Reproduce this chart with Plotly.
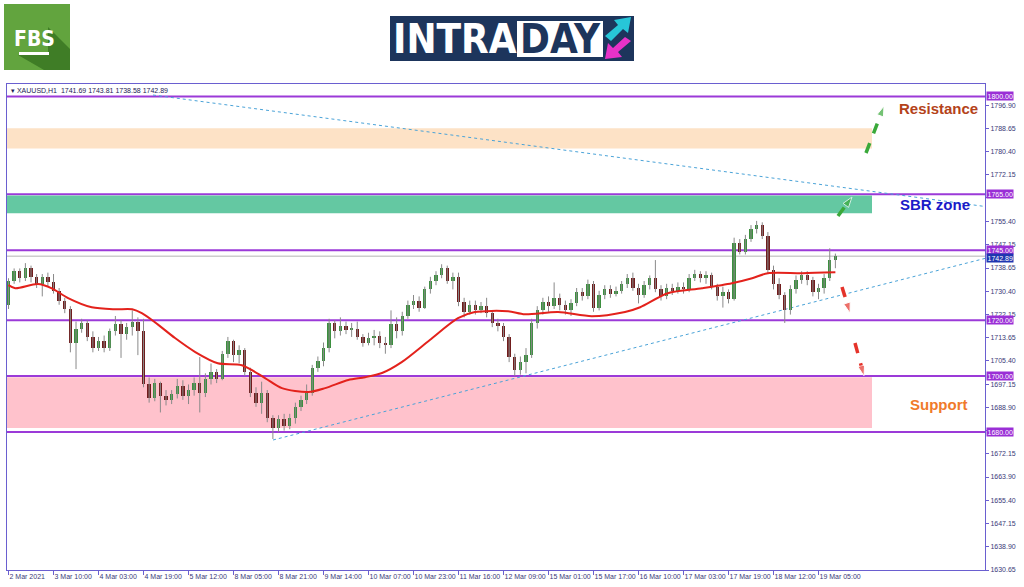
import plotly.graph_objects as go

W, H = 1024, 587
ML, MR, MT, MB = 7, 39, 84, 17
PW, PH = W - ML - MR, H - MT - MB

# ---------------- data ----------------
open_ = [1725.5, 1734, 1737.5, 1735, 1738.5, 1735.5, 1733, 1735.5, 1733.5, 1730.5,
         1727, 1724, 1712, 1717, 1719, 1714, 1710, 1712.5, 1710, 1716,
         1718.5, 1715, 1717.5, 1719.5, 1716, 1697, 1692, 1697.5, 1693, 1691.5,
         1693.5, 1696.5, 1693, 1695, 1697.5, 1694, 1699, 1701.5, 1699, 1708,
         1712.5, 1707.5, 1709.5, 1701.5, 1694, 1690.5, 1694, 1685, 1681.5, 1684.5,
         1682, 1685, 1689, 1691.5, 1694, 1703, 1705.5, 1710, 1719, 1716,
         1718, 1716.5, 1717, 1714, 1712, 1713.5, 1714.5, 1712, 1711, 1718.5,
         1716, 1721.5, 1725.5, 1727, 1724.5, 1731, 1734, 1736, 1738.5, 1734,
         1735.5, 1726.5, 1723, 1725.5, 1723.5, 1725, 1722.5, 1719, 1718, 1714,
         1707, 1702, 1705, 1707.5, 1719, 1723.5, 1726.5, 1725, 1728, 1725.5,
         1723.5, 1726, 1730, 1728.5, 1733, 1724.5, 1729, 1731, 1729.5, 1730.5,
         1733, 1735, 1731.5, 1729, 1732.5, 1735, 1731, 1728.5, 1731.5, 1730.5,
         1732, 1731, 1735, 1736.5, 1735, 1736, 1732, 1728.5, 1730, 1727.5,
         1747.5, 1744.5, 1749, 1752.5, 1754, 1750, 1738, 1733, 1729, 1723.5,
         1731, 1734.5, 1736, 1734.5, 1730, 1731.5, 1735, 1741.69]
high = [1735, 1738.5, 1738.5, 1740.4, 1739.5, 1736.5, 1736.5, 1737, 1736.5, 1731.5,
        1728, 1725, 1719.5, 1720.5, 1720, 1716, 1714, 1714.5, 1717, 1721.5,
        1720, 1719, 1723.5, 1721, 1720.5, 1699.5, 1699, 1698, 1695, 1695,
        1699, 1698.5, 1697, 1699.5, 1706.8, 1701, 1704.5, 1702.5, 1709, 1714,
        1713, 1711, 1710, 1703, 1696, 1698, 1695, 1686, 1686, 1686.5,
        1686.5, 1690.5, 1693, 1697, 1704, 1707, 1712, 1720.5, 1720, 1721,
        1719.5, 1719, 1719.5, 1715, 1715.5, 1716.5, 1716, 1714, 1723.5, 1721,
        1723, 1727, 1729, 1728.5, 1732, 1735.5, 1737.5, 1740, 1739.5, 1737,
        1737, 1728, 1727, 1727, 1726.5, 1728, 1723.5, 1720.5, 1719, 1715,
        1708, 1707, 1710, 1720.5, 1725, 1728, 1728.5, 1733.5, 1729.5, 1727,
        1727.5, 1731.5, 1731.5, 1734.5, 1734, 1730.5, 1732.5, 1732.5, 1732, 1734,
        1736.5, 1737, 1733, 1734, 1736, 1741.5, 1732.5, 1733, 1733, 1733.5,
        1733.5, 1736.5, 1738, 1737.5, 1737.5, 1737, 1733, 1732, 1731, 1749.5,
        1749, 1750.5, 1754, 1755.5, 1755, 1751.5, 1739.5, 1735, 1730, 1732.5,
        1736, 1737.5, 1737.5, 1735.5, 1733, 1736.5, 1745.7, 1743.81]
low = [1724, 1733, 1733.5, 1734, 1733.5, 1731.5, 1728.5, 1732, 1729.5, 1725.5,
       1722.5, 1708.5, 1702.5, 1715.5, 1712.5, 1708.5, 1709, 1708.5, 1709, 1714.5,
       1706.5, 1713, 1714.5, 1707.5, 1696, 1690.5, 1691, 1687, 1689.5, 1690,
       1692, 1691.5, 1690, 1693, 1687, 1692.5, 1697, 1697.5, 1698.5, 1706.5,
       1705, 1704.5, 1700, 1692.5, 1689, 1686.5, 1683.5, 1677.5, 1680, 1680.5,
       1681, 1683, 1687.5, 1690, 1693, 1701.5, 1703.5, 1708.5, 1713.5, 1714.5,
       1715, 1714, 1713, 1710.5, 1711, 1711, 1710, 1708, 1710, 1713.5,
       1714.5, 1720.5, 1724, 1723, 1724, 1729.5, 1732.5, 1735, 1733, 1731,
       1725, 1721, 1722, 1722, 1722.5, 1721, 1717.5, 1716, 1712.5, 1705,
       1700, 1700.5, 1701, 1706.5, 1717, 1722, 1723, 1724, 1723.5, 1722,
       1721.5, 1725, 1727, 1727.5, 1723, 1723.5, 1727.5, 1728, 1728.5, 1729.5,
       1731.5, 1730.5, 1726, 1728, 1731, 1730, 1727, 1727.5, 1729, 1729.5,
       1729.5, 1730, 1734, 1733.5, 1733, 1731, 1727, 1724.5, 1726, 1727,
       1743.5, 1743.5, 1748, 1751, 1749, 1736.5, 1731, 1727.5, 1719, 1722,
       1729.5, 1733, 1732.5, 1728.5, 1727.5, 1729.5, 1734, 1738.58]
close = [1734, 1737.5, 1735, 1738.5, 1735.5, 1733, 1735.5, 1733.5, 1730.5, 1727,
         1724, 1712, 1717, 1719, 1714, 1710, 1712.5, 1710, 1716, 1718.5,
         1715, 1717.5, 1719.5, 1716, 1697, 1692, 1697.5, 1693, 1691.5, 1693.5,
         1696.5, 1693, 1695, 1697.5, 1694, 1699, 1701.5, 1699, 1708, 1712.5,
         1707.5, 1709.5, 1701.5, 1694, 1690.5, 1694, 1685, 1681.5, 1684.5, 1682,
         1685, 1689, 1691.5, 1694, 1703, 1705.5, 1710, 1719, 1716, 1718,
         1716.5, 1717, 1714, 1712, 1713.5, 1714.5, 1712, 1711, 1718.5, 1716,
         1721.5, 1725.5, 1727, 1724.5, 1731, 1734, 1736, 1738.5, 1734, 1735.5,
         1726.5, 1723, 1725.5, 1723.5, 1725, 1722.5, 1719, 1718, 1714, 1707,
         1702, 1705, 1707.5, 1719, 1723.5, 1726.5, 1725, 1728, 1725.5, 1723.5,
         1726, 1730, 1728.5, 1733, 1724.5, 1729, 1731, 1729.5, 1730.5, 1733,
         1735, 1731.5, 1729, 1732.5, 1735, 1731, 1728.5, 1731.5, 1730.5, 1732,
         1731, 1735, 1736.5, 1735, 1736, 1732, 1728.5, 1730, 1727.5, 1747.5,
         1744.5, 1749, 1752.5, 1754, 1750, 1738, 1733, 1729, 1723.5, 1731,
         1734.5, 1736, 1734.5, 1730, 1731.5, 1735, 1741.69, 1742.89]

tick_idx = [0, 8, 16, 24, 32, 40, 48, 56, 64, 72, 80, 88, 96, 104, 112, 120, 128, 136, 144]
tick_text = ["2 Mar 2021", "3 Mar 10:00", "4 Mar 03:00", "4 Mar 19:00", "5 Mar 12:00",
             "8 Mar 05:00", "8 Mar 21:00", "9 Mar 14:00", "10 Mar 07:00", "10 Mar 23:00",
             "11 Mar 16:00", "12 Mar 09:00", "15 Mar 01:00", "15 Mar 17:00", "16 Mar 10:00",
             "17 Mar 03:00", "17 Mar 19:00", "18 Mar 12:00", "19 Mar 05:00"]

ma_idx = [0, 1.2, 5.2, 7.7, 10.6, 14.8, 18.9, 22.0, 23.7, 26.0, 29.6, 33.2, 37.2, 41.5,
          45.6, 48.6, 53.3, 56.3, 60.4, 63.4, 66.4, 69.9, 74.9, 79.9, 82.9, 88.8, 91.8,
          97.7, 103.7, 109.6, 112.3, 117.2, 123.3, 128.6, 132.2, 135.0, 141.1, 147]
ma_val = [1732.5, 1731.4, 1732.9, 1731.4, 1727.9, 1724.6, 1723.9, 1723.9, 1722.5, 1719.3,
          1713.6, 1708.6, 1704.6, 1703.9, 1699.3, 1695.7, 1694.3, 1695.7, 1698.6, 1699.6,
          1701.1, 1705.0, 1712.9, 1720.7, 1722.9, 1723.2, 1722.1, 1722.9, 1721.4, 1722.9,
          1724.6, 1729.6, 1731.4, 1733.2, 1735.0, 1736.8, 1736.8, 1737.1]

y_ticks = [1796.90, 1788.65, 1780.40, 1772.15, 1763.90, 1755.40, 1747.15, 1738.65,
           1730.40, 1722.15, 1713.65, 1705.40, 1697.15, 1688.90, 1680.65, 1672.15,
           1663.90, 1655.40, 1647.15, 1638.90, 1630.65]
hidden_ticks = [1763.90, 1680.65]   # covered by level boxes in the reference
levels = [1800.00, 1765.00, 1745.00, 1720.00, 1700.00, 1680.00]
last_price = 1742.89
zone_lo = [1781.4, 1758.2, 1681.4]
zone_hi = [1788.6, 1764.6, 1699.6]
zone_col = ["#fde2c6", "#64c8a2", "#ffc2cc"]
title_text = "▾ XAUUSD,H1  1741.69 1743.81 1738.58 1742.89"

# ---------------- axis ranges & helpers ----------------
X0, X1 = -0.27, 173.6
Y0, Y1 = 1630.65, 1804.46

def dx(px):
    return X0 + (px - ML) / PW * (X1 - X0)

def dy(py):
    return Y1 - (py - MT) / PH * (Y1 - Y0)

def qx(px):
    return (px - ML) / PW

def qy(py):
    return (H - MB - py) / PH

n = len(close)
idx = list(range(n))

BULL, BEAR, WICK = "#3c8f3f", "#701d1d", "#8a8a8a"
FRAME = "#6a5fd0"
LVL = "#9b3ad8"
FONT = "Liberation Sans, Arial, sans-serif"
NARROW = "Liberation Sans Narrow, DejaVu Sans Condensed, sans-serif"

fig = go.Figure()

# wicks
wx, wy = [], []
for i in idx:
    wx += [i, i, None]
    wy += [low[i], high[i], None]
fig.add_trace(go.Scatter(x=wx, y=wy, mode="lines", line=dict(color=WICK, width=1),
                         hoverinfo="skip", showlegend=False))
# bodies
body_base = [min(o, c) for o, c in zip(open_, close)]
body_len = [max(abs(c - o), 0.35) for o, c in zip(open_, close)]
body_col = [BULL if c >= o else BEAR for o, c in zip(open_, close)]
fig.add_trace(go.Bar(x=idx, y=body_len, base=body_base, width=0.6,
                     marker=dict(color=body_col, line=dict(width=0)),
                     showlegend=False, hoverinfo="skip"))
# moving average
fig.add_trace(go.Scatter(x=ma_idx, y=ma_val, mode="lines",
                         line=dict(color="#e3221c", width=2, shape="spline", smoothing=0.8),
                         showlegend=False, hoverinfo="skip"))

# dashed arrows
arrows = [((866, 153), (884, 106), "#3aa93a"),
          ((838, 216), (852, 197), "#3aa93a"),
          ((842, 287), (850, 313), "#e5332a"),
          ((855, 343), (864, 376), "#e5332a")]
for (a, b, col) in arrows:
    fig.add_trace(go.Scatter(x=[dx(a[0]), dx(b[0])], y=[dy(a[1]), dy(b[1])],
                             mode="lines+markers",
                             line=dict(color=col, width=3.5, dash="dash"),
                             marker=dict(symbol="arrow", angleref="previous",
                                         size=[0, 11], color=col),
                             showlegend=False, hoverinfo="skip"))

shapes = []
# zones
for lo, hi, col in zip(zone_lo, zone_hi, zone_col):
    shapes.append(dict(type="rect", xref="x", yref="y", x0=X0, x1=dx(872), y0=lo, y1=hi,
                       fillcolor=col, line=dict(width=0), layer="below"))
# horizontal levels
for lv in levels:
    shapes.append(dict(type="line", xref="paper", yref="y", x0=0, x1=1, y0=lv, y1=lv,
                       line=dict(color=LVL, width=2), layer="below"))
shapes.append(dict(type="line", xref="paper", yref="y", x0=0, x1=1, y0=last_price, y1=last_price,
                   line=dict(color="#b4b4b4", width=1), layer="below"))
# trend lines
shapes.append(dict(type="line", xref="x", yref="y", x0=dx(153), y0=dy(95), x1=X1, y1=dy(206.5),
                   line=dict(color="#4aa3d8", width=1, dash="dot"), layer="below"))
shapes.append(dict(type="line", xref="x", yref="y", x0=dx(273), y0=dy(440), x1=X1, y1=dy(258.4),
                   line=dict(color="#4aa3d8", width=1, dash="dot"), layer="below"))

# FBS logo
shapes.append(dict(type="rect", xref="paper", yref="paper", x0=qx(4), x1=qx(70), y0=qy(70), y1=qy(4),
                   fillcolor="#62a43e", line=dict(width=0)))
shp = "M {} {} L {} {} L {} {} L {} {} L {} {} L {} {} Z".format(
    qx(48), qy(27), qx(70), qy(49), qx(70), qy(70), qx(44), qy(70), qx(18), qy(55), qx(48), qy(55))
shapes.append(dict(type="path", xref="paper", yref="paper", path=shp,
                   fillcolor="#3f7d26", line=dict(width=0)))
shapes.append(dict(type="rect", xref="paper", yref="paper", x0=qx(19), x1=qx(49), y0=qy(55), y1=qy(52),
                   fillcolor="white", line=dict(width=0)))
# INTRADAY logo
shapes.append(dict(type="rect", xref="paper", yref="paper", x0=qx(390), x1=qx(634), y0=qy(61), y1=qy(16),
                   fillcolor="#1d355c", line=dict(width=0)))
shapes.append(dict(type="rect", xref="paper", yref="paper", x0=qx(517), x1=qx(603), y0=qy(57), y1=qy(21),
                   fillcolor="white", line=dict(width=0)))
cyan = [(605, 36), (618, 25), (614, 20), (631, 17), (628, 33), (623, 29), (611, 41)]
mag = [(631, 41), (618, 52), (622, 57), (605, 59), (608, 43), (613, 48), (625, 37)]
for pts, col in ((cyan, "#27c6d8"), (mag, "#e832c8")):
    p = "M " + " L ".join("{} {}".format(qx(a), qy(b)) for a, b in pts) + " Z"
    shapes.append(dict(type="path", xref="paper", yref="paper", path=p,
                       fillcolor=col, line=dict(width=0)))

annotations = []
annotations.append(dict(xref="paper", yref="paper", x=qx(34), y=qy(39), text="<b>FBS</b>",
                        xanchor="center", yanchor="middle",
                        showarrow=False, font=dict(family=NARROW, size=21, color="white")))
annotations.append(dict(xref="paper", yref="paper", x=qx(455), y=qy(39.5), text="<b>INTRA</b>",
                        xanchor="center", yanchor="middle",
                        showarrow=False, font=dict(family=NARROW, size=40, color="white")))
annotations.append(dict(xref="paper", yref="paper", x=qx(560), y=qy(39.5), text="<b>DAY</b>",
                        xanchor="center", yanchor="middle",
                        showarrow=False, font=dict(family=NARROW, size=40, color="#1d355c")))
# chart title
annotations.append(dict(xref="paper", yref="paper", x=0, y=1, xanchor="left", yanchor="top",
                        xshift=2, yshift=-1, text=title_text, showarrow=False,
                        font=dict(family=FONT, size=7, color="#1c1c55")))
# level price labels
for lv in levels:
    annotations.append(dict(xref="paper", yref="y", x=1, y=lv, xanchor="left", yanchor="middle",
                            xshift=1, text="{:.2f}".format(lv), showarrow=False, bgcolor="#9a2fd6",
                            borderpad=0.5, font=dict(family=FONT, size=7, color="white")))
annotations.append(dict(xref="paper", yref="y", x=1, y=last_price, xanchor="left", yanchor="middle",
                        xshift=1, yshift=-2, text="{:.2f}".format(last_price), showarrow=False,
                        bgcolor="#1f36b0", borderpad=0.5,
                        font=dict(family=FONT, size=7, color="white")))
# zone labels
for txt, (px, py), col in (("Resistance", (938, 108), "#b4431a"),
                           ("SBR zone", (935, 204), "#1a1ac8"),
                           ("Support", (939, 404), "#f07a2a")):
    annotations.append(dict(xref="x", yref="y", x=dx(px), y=dy(py), text="<b>" + txt + "</b>",
                            xanchor="center", yanchor="middle",
                            showarrow=False, font=dict(family=FONT, size=15, color=col)))

fig.update_layout(
    width=W, height=H,
    margin=dict(l=ML, r=MR, t=MT, b=MB, pad=0, autoexpand=False),
    paper_bgcolor="white", plot_bgcolor="white",
    showlegend=False, bargap=0,
    shapes=shapes, annotations=annotations,
    font=dict(family=FONT, size=7, color="#3a3a78"),
    xaxis=dict(range=[X0, X1], tickvals=tick_idx, ticktext=tick_text, ticks="outside",
               ticklen=4, tickcolor=FRAME, showline=True, linecolor=FRAME, linewidth=1,
               mirror=True, showgrid=False, zeroline=False, ticklabelposition="outside right",
               tickangle=0, automargin=False,
               tickfont=dict(family=FONT, size=7, color="#3a3a78"), fixedrange=True),
    yaxis=dict(range=[Y0, Y1], side="right", tickvals=y_ticks,
               ticktext=["" if v in hidden_ticks else "{:.2f}".format(v) for v in y_ticks],
               ticks="outside", ticklen=3,
               tickcolor=FRAME, showline=True, linecolor=FRAME, linewidth=1, mirror=True,
               showgrid=False, zeroline=False, automargin=False,
               tickfont=dict(family=FONT, size=7, color="#3a3a78"), fixedrange=True),
)

fig.write_html("out.html", config={"displayModeBar": False},
               post_script="document.body.style.margin='0px';")
